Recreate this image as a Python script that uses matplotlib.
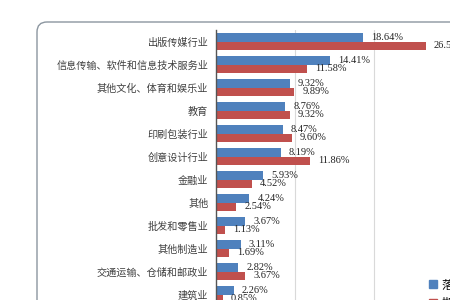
import matplotlib.pyplot as plt
import numpy as np
from matplotlib.patches import FancyBboxPatch, Patch
from matplotlib.transforms import IdentityTransform

industries = ['出版传媒行业', '信息传输、软件和信息技术服务业', '其他文化、体育和娱乐业', '教育',
              '印刷包装行业', '创意设计行业', '金融业', '其他', '批发和零售业', '其他制造业',
              '交通运输、仓储和邮政业', '建筑业']
actual_pct = [18.64, 14.41, 9.32, 8.76, 8.47, 8.19, 5.93, 4.24, 3.67, 3.11, 2.82, 2.26]
expected_pct = [26.52, 11.58, 9.89, 9.32, 9.60, 11.86, 4.52, 2.54, 1.13, 1.69, 3.67, 0.85]
series_names = ['落实就业行业', '期望就业行业']

blue = '#4f81bd'
red = '#c0504d'
cjk = ['Noto Sans CJK SC', 'DejaVu Sans']

fig = plt.figure(figsize=(4.5, 3), dpi=100)

# outer chart border (rounded corner), runs off the bottom/right of the picture
border = FancyBboxPatch((37, -60), 600, 300 - 22 + 60,
                        boxstyle='round,pad=0,rounding_size=10',
                        transform=IdentityTransform(),
                        facecolor='none', edgecolor='#8c96a0', linewidth=1.0)
fig.patches.append(border)

# plot area: x 0..30% over 237 px from x=216, rows of 23 px starting at y=30
ax = fig.add_axes([216 / 450, 1 - (30.2 + 23 * 13) / 300, 237 / 450, 23 * 13 / 300])
ax.set_facecolor('none')

y = np.arange(len(industries))
h = 0.37
b1 = ax.barh(y - h / 2, actual_pct, height=h, color=blue)
b2 = ax.barh(y + h / 2, expected_pct, height=h, color=red)

for bars, vals in ((b1, actual_pct), (b2, expected_pct)):
    ax.bar_label(bars, labels=['%.2f%%' % v for v in vals], padding=5.8,
                 fontsize=7.5, family='Liberation Serif', color='#222222')

ax.set_xlim(0, 30)
ax.set_ylim(12.5, -0.5)
ax.set_xticks([10, 20])
ax.grid(axis='x', color='#d9d9d9', linewidth=0.8)
ax.set_axisbelow(True)
ax.tick_params(axis='x', length=0, labelbottom=False)
ax.set_yticks(y)
ax.set_yticklabels(industries, family=cjk, fontsize=7.3, color='#404040')
ax.tick_params(axis='y', length=0, pad=5.5)
for s in ('top', 'right', 'bottom'):
    ax.spines[s].set_visible(False)
ax.spines['left'].set_color('#555555')
ax.spines['left'].set_linewidth(1.0)

handles = [Patch(color=blue), Patch(color=red)]
fig.legend(handles, series_names, loc='upper left', bbox_to_anchor=(429 / 450, 1 - 278.5 / 300),
           frameon=False, prop={'family': cjk, 'size': 8.5}, handlelength=0.65, handleheight=0.65,
           handletextpad=0.4, labelspacing=0.45, borderaxespad=0, borderpad=0)

fig.savefig('out.png', dpi=100)
